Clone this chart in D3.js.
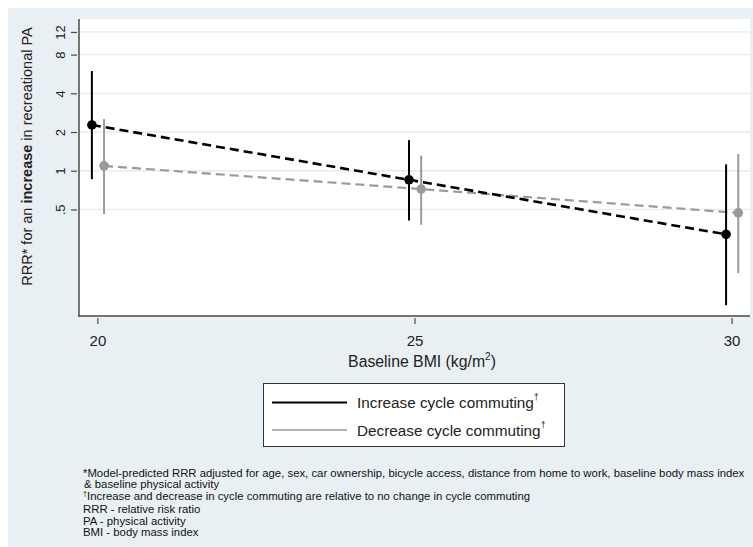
<!DOCTYPE html>
<html><head><meta charset="utf-8">
<script src="https://cdn.jsdelivr.net/npm/d3@7"></script>
<style>
html,body{margin:0;padding:0;background:#fff;}
svg{display:block;font-family:"Liberation Sans",Arial,sans-serif;}
</style></head>
<body>
<script>
// ---- data ----
const bmiLevels = [20, 25, 30];
const increaseEst = [2.27, 0.85, 0.32];
const increaseLo  = [0.86, 0.41, 0.09];
const increaseHi  = [5.96, 1.73, 1.12];
const decreaseEst = [1.09, 0.72, 0.47];
const decreaseLo  = [0.46, 0.38, 0.16];
const decreaseHi  = [2.52, 1.31, 1.35];
const yTickValues = [0.5, 1, 2, 4, 8, 12];
const yTickLabels = [".5", "1", "2", "4", "8", "12"];
const xTickValues = [20, 25, 30];
const seriesNames = ["Increase cycle commuting", "Decrease cycle commuting"];
const footnotes = [
  "*Model-predicted RRR adjusted for age, sex, car ownership, bicycle access, distance from home to work, baseline body mass index",
  "& baseline physical activity",
  "Increase and decrease in cycle commuting are relative to no change in cycle commuting",
  "RRR - relative risk ratio",
  "PA - physical activity",
  "BMI - body mass index"
];

const W = 753, H = 547;
const svg = d3.select("body").append("svg").attr("width", W).attr("height", H);
svg.append("rect").attr("x", 8).attr("y", 8).attr("width", W - 8).attr("height", H - 8).attr("fill", "#e8f0f3");

const plot = {left: 79, top: 19, right: 750, bottom: 316};
svg.append("rect").attr("x", plot.left).attr("y", plot.top)
  .attr("width", plot.right - plot.left).attr("height", plot.bottom - plot.top).attr("fill", "#fff");

const x = d3.scaleLinear().domain([19.71, 30.29]).range([plot.left, plot.right]);
const y = d3.scaleLog().domain([0.0742, 15.13]).range([plot.bottom, plot.top]);

// gridlines
svg.append("g").selectAll("line").data(yTickValues).join("line")
  .attr("x1", plot.left).attr("x2", plot.right)
  .attr("y1", d => y(d)).attr("y2", d => y(d))
  .attr("stroke", "#e3ecf0").attr("stroke-width", 1.3);

const axisColor = "#4a4a4a";
// y axis
const yAxis = svg.append("g").attr("transform", `translate(${plot.left},0)`)
  .call(d3.axisLeft(y).tickValues(yTickValues).tickFormat((d, i) => yTickLabels[i]).tickSize(6).tickPadding(0));
yAxis.select(".domain").remove();
yAxis.selectAll(".tick line").attr("stroke", axisColor).attr("stroke-width", 1.2).attr("x1", -2).attr("x2", -8);
yAxis.selectAll(".tick text").attr("transform", "rotate(-90)").attr("x", 0).attr("y", -14.5)
  .attr("text-anchor", "middle").attr("dy", 0).attr("font-size", 13).attr("fill", "#222")
  .attr("font-family", "Liberation Sans, Arial, sans-serif");
svg.append("line").attr("x1", plot.left).attr("x2", plot.left).attr("y1", plot.top).attr("y2", plot.bottom + 0.75)
  .attr("stroke", axisColor).attr("stroke-width", 1.5);

// x axis
const xAxis = svg.append("g").attr("transform", `translate(0,${plot.bottom})`)
  .call(d3.axisBottom(x).tickValues(xTickValues).tickFormat(d3.format("d")).tickSize(8).tickPadding(0));
xAxis.select(".domain").remove();
xAxis.selectAll(".tick line").attr("stroke", axisColor).attr("stroke-width", 1.2).attr("y1", 2).attr("y2", 8);
xAxis.selectAll(".tick text").attr("y", 29.5).attr("dy", 0).attr("font-size", 15).attr("fill", "#222")
  .attr("font-family", "Liberation Sans, Arial, sans-serif");
svg.append("line").attr("x1", plot.left - 0.75).attr("x2", plot.right).attr("y1", plot.bottom).attr("y2", plot.bottom)
  .attr("stroke", axisColor).attr("stroke-width", 1.5);

// axis titles
const yt = svg.append("text").attr("transform", `translate(32,156.5) rotate(-90)`)
  .attr("text-anchor", "middle").attr("font-size", 14.5).attr("fill", "#222");
yt.append("tspan").text("RRR* for an ");
yt.append("tspan").attr("font-weight", "bold").text("increase");
yt.append("tspan").text(" in recreational PA");

const xt = svg.append("text").attr("x", 422).attr("y", 367)
  .attr("text-anchor", "middle").attr("font-size", 15.8).attr("fill", "#222");
xt.append("tspan").text("Baseline BMI (kg/m");
xt.append("tspan").attr("font-size", 10).attr("dy", -7).text("2");
xt.append("tspan").attr("dy", 7).text(")");

// series
const series = [
  {est: increaseEst, lo: increaseLo, hi: increaseHi, color: "#000", dodge: -0.087, lw: 2.6, bar: 2},
  {est: decreaseEst, lo: decreaseLo, hi: decreaseHi, color: "#9a9a9a", dodge: 0.105, lw: 2.2, bar: 2}
];
const line = d3.line().x(d => x(d.bmi)).y(d => y(d.v));
[1, 0].forEach(si => {
  const s = series[si];
  const pts = bmiLevels.map((b, i) => ({bmi: b + s.dodge, v: s.est[i], lo: s.lo[i], hi: s.hi[i]}));
  const g = svg.append("g");
  g.selectAll("line.ci").data(pts).join("line").attr("class", "ci")
    .attr("x1", d => x(d.bmi)).attr("x2", d => x(d.bmi))
    .attr("y1", d => y(d.lo)).attr("y2", d => y(d.hi))
    .attr("stroke", s.color).attr("stroke-width", s.bar);
  g.append("path").datum(pts).attr("d", line).attr("fill", "none")
    .attr("stroke", s.color).attr("stroke-width", s.lw).attr("stroke-dasharray", "9,5");
  g.selectAll("circle").data(pts).join("circle")
    .attr("cx", d => x(d.bmi)).attr("cy", d => y(d.v)).attr("r", 4.8).attr("fill", s.color);
});

// legend
const lg = svg.append("g");
lg.append("rect").attr("x", 263.5).attr("y", 383.5).attr("width", 301).attr("height", 63)
  .attr("fill", "#fff").attr("stroke", "#333").attr("stroke-width", 1);
const legendRows = [{y: 402.5, color: "#000", w: 2}, {y: 430, color: "#999", w: 1.5}];
legendRows.forEach((r, i) => {
  lg.append("line").attr("x1", 272).attr("x2", 347).attr("y1", r.y).attr("y2", r.y)
    .attr("stroke", r.color).attr("stroke-width", r.w);
  const t = lg.append("text").attr("x", 357).attr("y", r.y + 5.5).attr("font-size", 15.3).attr("fill", "#222");
  t.append("tspan").text(seriesNames[i]);
  t.append("tspan").attr("font-size", 9).attr("dy", -8).text("\u2020");
});

// footnotes
const fg = svg.append("g");
const lineYs = [477, 488.5, 500.5, 513.5, 525, 536.5];
footnotes.forEach((txt, i) => {
  const t = fg.append("text").attr("x", 0).attr("y", lineYs[i]).attr("font-size", 11).attr("fill", "#111");
  if (i === 2) {
    t.append("tspan").attr("font-size", 7).attr("dy", -4).text("\u2020");
    t.append("tspan").attr("dy", 4).text(txt);
  } else if (i === 1) {
    t.attr("x", 1).text(txt);
  } else {
    t.text(txt);
  }
});
const w0 = fg.select("text").node().getComputedTextLength();
const sx = 662 / w0;
fg.attr("transform", `translate(83,0) scale(${sx},1)`);
</script>
</body></html>
